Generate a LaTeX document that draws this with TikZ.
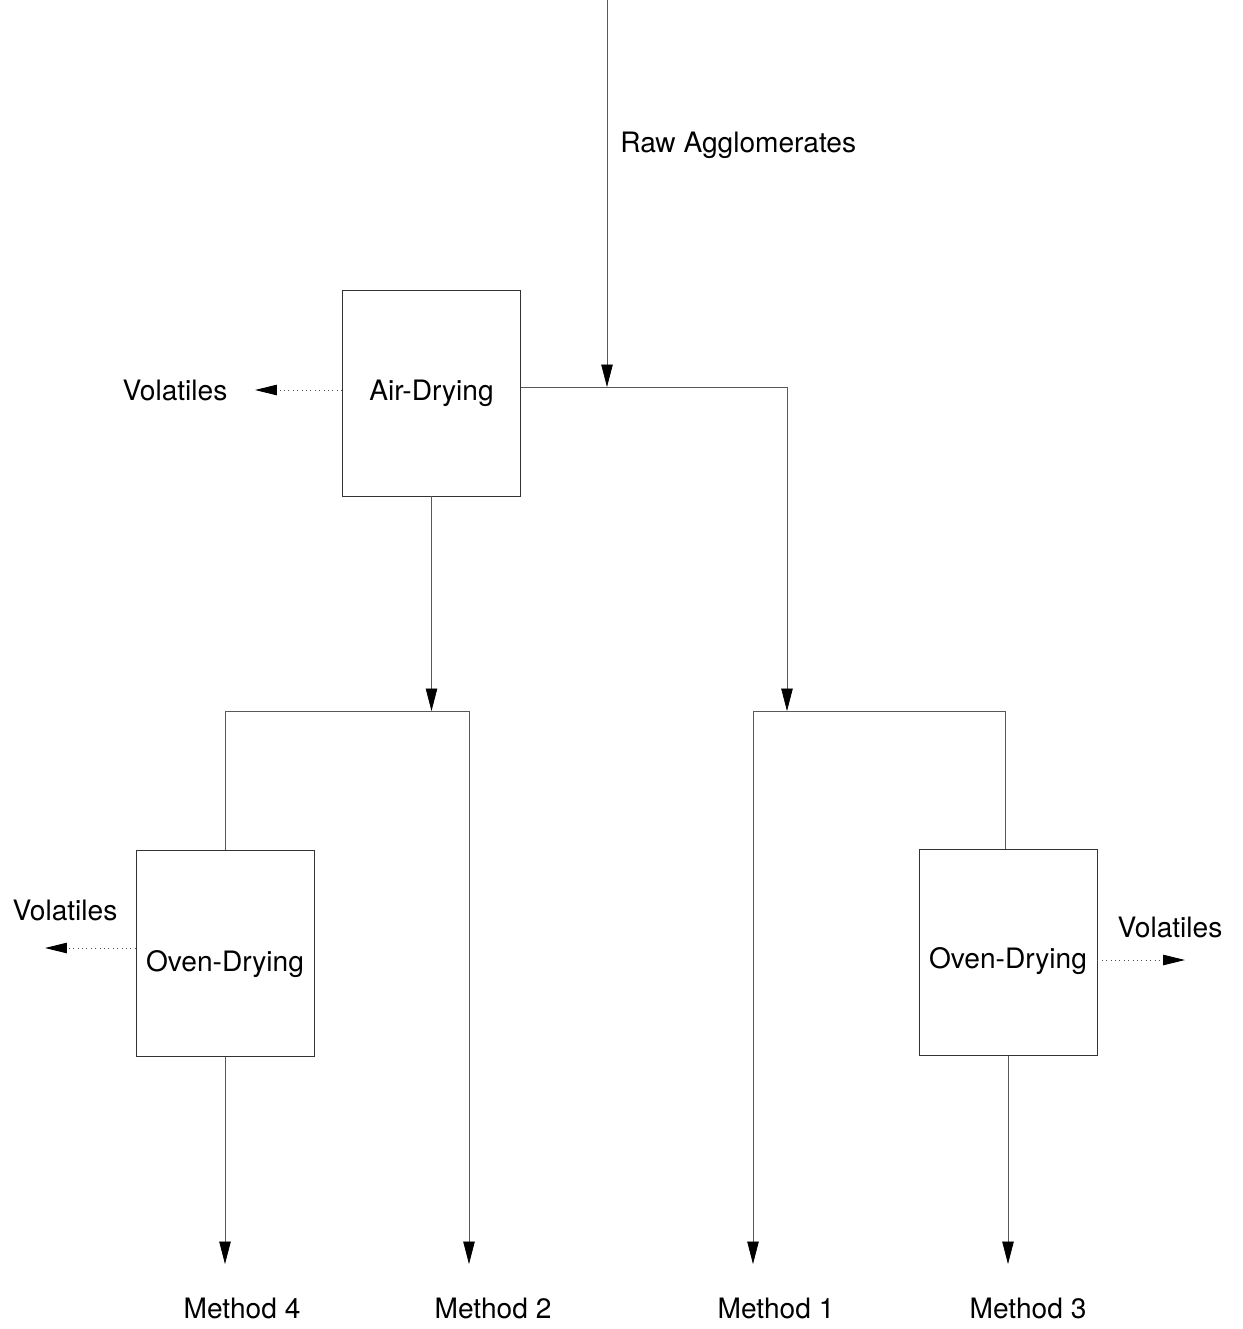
\documentclass[tikz,border=0pt]{standalone}
\usepackage{fontspec}
\setmainfont{TeX Gyre Heros}
\usepackage{tikz}
\usetikzlibrary{arrows.meta}

\tikzset{
	box/.style={draw=black!80, line width=0.5pt, minimum width=3.56cm, minimum height=4.12cm, inner sep=0pt},
	flow/.style={draw=black!65, line width=0.4pt},
	tip/.style={flow, -{Triangle[length=4.5mm, width=2.3mm, color=black]}},
	vol/.style={draw=black!70, line width=0.5pt, dotted, -{Triangle[length=4.4mm, width=2.1mm, color=black]}},
	lbl/.style={inner sep=0pt}
}

\begin{document}
\begin{tikzpicture}[x=0.02cm, y=-0.02cm, font=\fontsize{16}{19}\selectfont]
	\useasboundingbox (0,0) rectangle (1243,1329);

	\node[box] (air) at (431.5,393) {Air-Drying};
	\node[box] (ovenL) at (225,953.5) {\raisebox{-3.6mm}[0pt][0pt]{Oven-Drying}};
	\node[box] (ovenR) at (1008,952.5) {\raisebox{-3.2mm}[0pt][0pt]{Oven-Drying}};

	\node[lbl, anchor=west] (raw) at (620,145) {Raw Agglomerates};
	\node[lbl] (volA) at (175,390) {Volatiles};
	\node[lbl] (volL) at (65,910) {Volatiles};
	\node[lbl] (volR) at (1170,927) {Volatiles};
	\node[lbl] (m4) at (242,1308) {Method 4};
	\node[lbl] (m2) at (493,1308) {Method 2};
	\node[lbl] (m1) at (776,1308) {Method 1};
	\node[lbl] (m3) at (1028,1308) {Method 3};

	\coordinate (top) at (607,0);
	\coordinate (j1) at (607,387);
	\coordinate (j1r) at (787,387);
	\coordinate (lL) at (225,711);
	\coordinate (lR) at (469,711);
	\coordinate (rL) at (753,711);
	\coordinate (rR) at (1005,711);
	\coordinate (e4) at (225,1264);
	\coordinate (e2) at (469,1264);
	\coordinate (e1) at (753,1264);
	\coordinate (e3) at (1008,1264);
	\coordinate (va) at (255,390);
	\coordinate (vl) at (45,948);
	\coordinate (vr) at (1185,960);

	% feed and air-drying split
	\draw[tip] (top) -- (j1);
	\draw[flow] (air.east |- j1) -- (j1r);
	\draw[tip] (j1r) -- (j1r |- rL);
	\draw[tip] (air.south) -- (air.south |- lL);

	% left branch
	\draw[flow] (lL) -- (lR);
	\draw[flow] (lL) -- (lL |- ovenL.north);
	\draw[tip] (lR) -- (e2);
	\draw[tip] (ovenL.south) -- (e4);

	% right branch
	\draw[flow] (rL) -- (rR);
	\draw[tip] (rL) -- (e1);
	\draw[flow] (rR) -- (rR |- ovenR.north);
	\draw[tip] (ovenR.south) -- (e3);

	% volatiles
	\draw[vol] (air.west |- va) -- (va);
	\draw[vol] (ovenL.west |- vl) -- (vl);
	\draw[vol] (ovenR.east |- vr) -- (vr);
\end{tikzpicture}
\end{document}
